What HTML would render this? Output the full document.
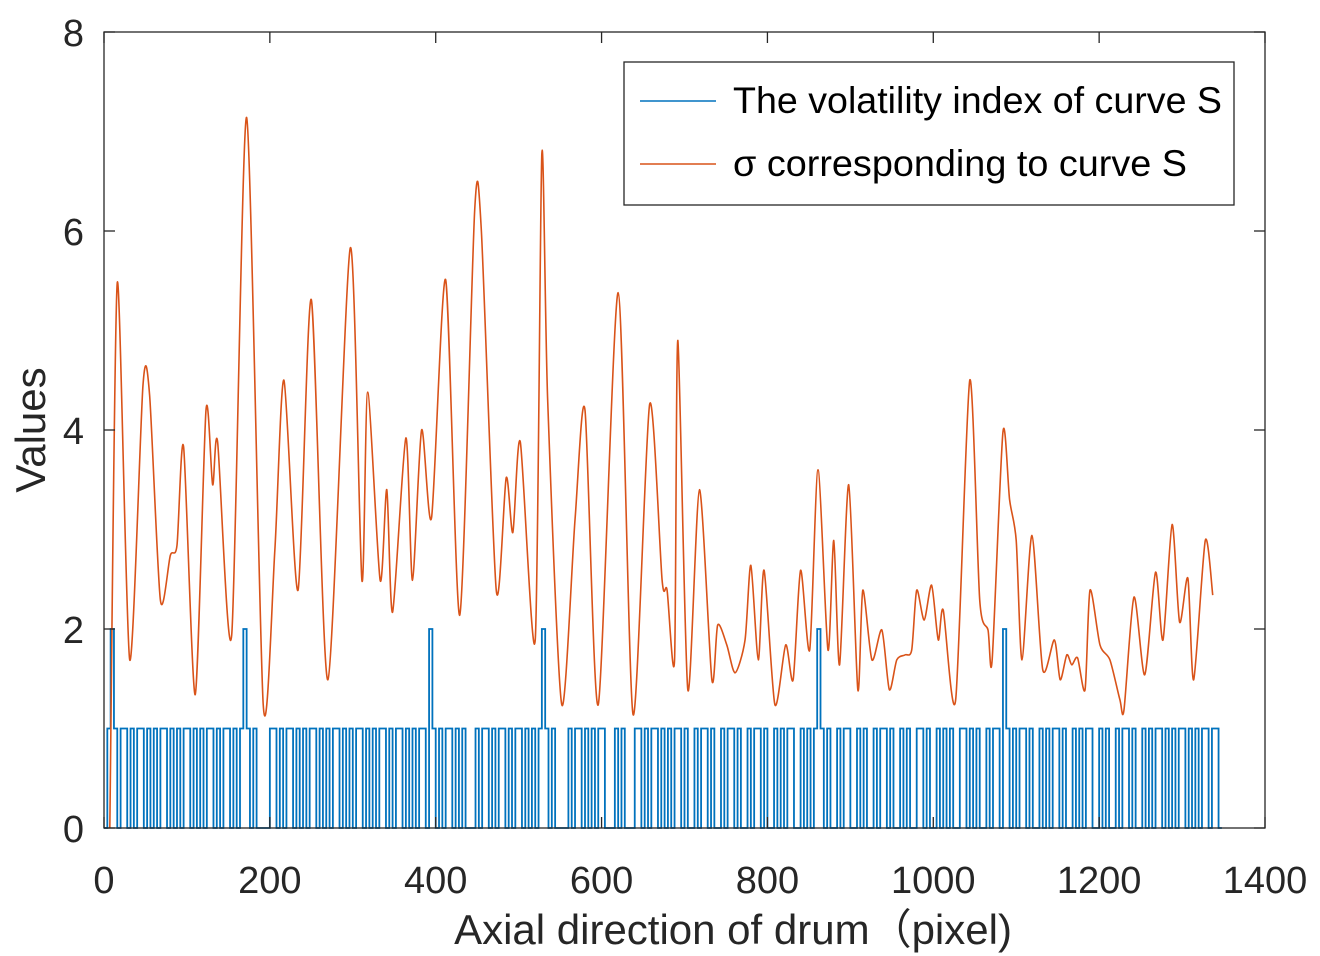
<!DOCTYPE html>
<html><head><meta charset="utf-8">
<style>
html,body{margin:0;padding:0;background:#fff;}
svg{display:block;font-family:"Liberation Sans",Arial,sans-serif;}
</style></head>
<body>
<svg id="chart" width="1320" height="956" viewBox="0 0 1320 956" xmlns="http://www.w3.org/2000/svg">
  <rect x="0" y="0" width="1320" height="956" fill="#fff"/>
  <g id="plot"></g>
  <rect x="104" y="32" width="1161" height="796" fill="none" stroke="#262626" stroke-width="1.3"/>
  <g id="xticks"></g>
  <g id="yticks"></g>
  <text x="733" y="944" text-anchor="middle" font-size="42" fill="#262626">Axial direction of drum（pixel)</text>
  <text transform="translate(45,430) rotate(-90)" text-anchor="middle" font-size="42" fill="#262626">Values</text>
  <g>
    <rect x="624" y="62" width="610" height="143" fill="#fff" stroke="#262626" stroke-width="1.3"/>
    <g>
      <line x1="640" y1="101" x2="716" y2="101" stroke="#0072BD" stroke-width="1.5"/>
      <text x="733" y="113" font-size="37" fill="#000" textLength="489" lengthAdjust="spacingAndGlyphs">The volatility index of curve S</text>
    </g>
    <g>
      <line x1="640" y1="164" x2="716" y2="164" stroke="#D95319" stroke-width="1.5"/>
      <text x="733" y="176" font-size="37" fill="#000" textLength="454" lengthAdjust="spacingAndGlyphs">σ corresponding to curve S</text>
    </g>
  </g>
</svg>
<script>
const xTickValues = [0,200,400,600,800,1000,1200,1400];
const yTickValues = [0,2,4,6,8];
const sigmaX = [7,16,31,47,55,68,80,88,96,110,123,131,137,154,172,192,206,217,234,250,270,297,311,318,333,341,348,364,372,383,395,412,429,447,455,473,485,493,502,520,528,535,552,568,580,596,620,638,658,673,679,688,692,704,718,733,740,751,761,773,780,789,796,809,822,831,840,851,861,873,880,887,898,909,915,926,938,947,956,966,974,980,989,998,1006,1012,1027,1044,1056,1066,1071,1084,1092,1100,1107,1119,1132,1146,1153,1161,1167,1174,1183,1189,1201,1213,1225,1230,1242,1255,1268,1277,1288,1297,1307,1314,1328,1337];
const sigmaY = [0,5.48,1.69,4.45,4.35,2.29,2.74,2.84,3.83,1.34,4.2,3.45,3.88,1.94,7.14,1.24,2.79,4.5,2.39,5.31,1.49,5.83,2.49,4.38,2.49,3.4,2.17,3.92,2.49,4.0,3.12,5.51,2.14,6.21,6.01,2.39,3.52,2.97,3.88,1.89,6.78,4.3,1.24,3.1,4.2,1.24,5.38,1.14,4.26,2.49,2.39,1.69,4.9,1.39,3.4,1.49,2.04,1.84,1.56,1.89,2.64,1.69,2.59,1.24,1.84,1.49,2.59,1.79,3.6,1.79,2.89,1.64,3.45,1.39,2.39,1.69,1.99,1.39,1.69,1.74,1.79,2.39,2.09,2.44,1.89,2.19,1.29,4.5,2.29,1.99,1.69,3.98,3.3,2.89,1.69,2.94,1.59,1.89,1.49,1.74,1.64,1.71,1.39,2.39,1.84,1.69,1.29,1.19,2.32,1.54,2.57,1.89,3.05,2.07,2.51,1.49,2.89,2.34];
const volStep = 4;
const volValues = [
0,1,2,1,0,1,1,0,1,0,1,1,0,1,0,1,0,1,1,0,
1,0,1,0,1,1,0,1,0,1,0,1,1,0,1,0,1,1,0,1,
0,1,2,1,0,1,0,0,0,0,1,1,0,1,0,1,1,0,1,0,
1,0,1,1,0,1,0,1,0,1,1,0,1,0,1,0,1,1,0,1,
0,1,0,1,1,0,1,0,1,1,0,1,0,1,0,1,1,0,2,1,
0,1,0,1,1,0,1,0,1,0,0,0,1,0,1,1,0,1,0,1,
1,0,1,0,1,1,0,1,0,1,0,1,2,1,0,1,0,0,0,0,
1,0,1,1,0,1,0,1,0,1,1,0,0,0,1,0,1,0,0,0,
1,1,0,1,0,1,1,0,1,0,1,0,1,1,0,1,0,0,1,0,
1,1,0,1,0,0,1,0,1,1,0,1,0,0,1,0,1,1,0,1,
0,0,1,0,1,0,1,1,0,0,1,0,1,0,1,2,1,0,1,0,
0,1,0,1,1,0,0,1,0,1,0,0,1,0,1,1,0,1,0,0,
1,0,1,0,0,1,1,0,1,0,0,1,0,1,0,1,0,0,1,1,
0,1,0,1,0,0,1,0,1,1,0,2,1,0,1,0,1,1,0,1,
0,0,1,0,1,0,1,1,0,1,0,0,1,0,1,0,1,1,0,0,
1,0,1,0,0,1,0,1,1,0,1,0,0,1,0,1,0,1,1,0,
1,0,1,0,1,1,0,1,0,1,0,1,1,0,1,1,0];

const X0=104, X1=1265, Y0=828, Y1=32;
function sx(v){return X0+(v/1400)*(X1-X0);}
function sy(v){return Y0-(v/8)*(Y0-Y1);}
const NS="http://www.w3.org/2000/svg";
function mk(tag,attrs,parent){const e=document.createElementNS(NS,tag);for(const k in attrs)e.setAttribute(k,attrs[k]);parent.appendChild(e);return e;}

const plot=document.getElementById('plot');
let d='';
for(let i=0;i<volValues.length;i++){
  const xa=sx(i*volStep), xb=sx((i+1)*volStep), y=sy(volValues[i]);
  if(i===0) d+='M'+xa.toFixed(2)+','+y.toFixed(2);
  else d+='V'+y.toFixed(2);
  d+='H'+xb.toFixed(2);
}
const vol=mk('path',{d:d,fill:'none',stroke:'#0072BD','stroke-width':1.8},plot);



const pts=sigmaX.map((x,i)=>[sx(x),sy(sigmaY[i])]);
let p='M'+pts[0][0].toFixed(2)+','+pts[0][1].toFixed(2);
for(let i=0;i<pts.length-1;i++){
  const p0=pts[Math.max(0,i-1)],p1=pts[i],p2=pts[i+1],p3=pts[Math.min(pts.length-1,i+2)];
  const t=0.13;
  const c1=[p1[0]+(p2[0]-p0[0])*t,p1[1]+(p2[1]-p0[1])*t];
  const c2=[p2[0]-(p3[0]-p1[0])*t,p2[1]-(p3[1]-p1[1])*t];
  p+='C'+c1[0].toFixed(2)+','+c1[1].toFixed(2)+' '+c2[0].toFixed(2)+','+c2[1].toFixed(2)+' '+p2[0].toFixed(2)+','+p2[1].toFixed(2);
}
const sig=mk('path',{d:p,fill:'none',stroke:'#D95319','stroke-width':1.6,'stroke-linejoin':'round'},plot);



const xg=document.getElementById('xticks');
xTickValues.forEach(v=>{
  const x=sx(v);
  const t1=mk('line',{x1:x,y1:Y0,x2:x,y2:Y0-11,stroke:'#262626','stroke-width':1.3},xg);
  
  
  const t2=mk('line',{x1:x,y1:Y1,x2:x,y2:Y1+11,stroke:'#262626','stroke-width':1.3},xg);
  
  
  const lb=mk('text',{x:x,y:893,'text-anchor':'middle','font-size':38,fill:'#262626'},xg);
  lb.textContent=v;
  
  
});
const yg=document.getElementById('yticks');
yTickValues.forEach(v=>{
  const y=sy(v);
  const t1=mk('line',{x1:X0,y1:y,x2:X0+11,y2:y,stroke:'#262626','stroke-width':1.3},yg);
  
  
  const t2=mk('line',{x1:X1,y1:y,x2:X1-11,y2:y,stroke:'#262626','stroke-width':1.3},yg);
  
  
  const lb=mk('text',{x:84,y:y+14,'text-anchor':'end','font-size':38,fill:'#262626'},yg);
  lb.textContent=v;
  
  
});
</script>
</body></html>
